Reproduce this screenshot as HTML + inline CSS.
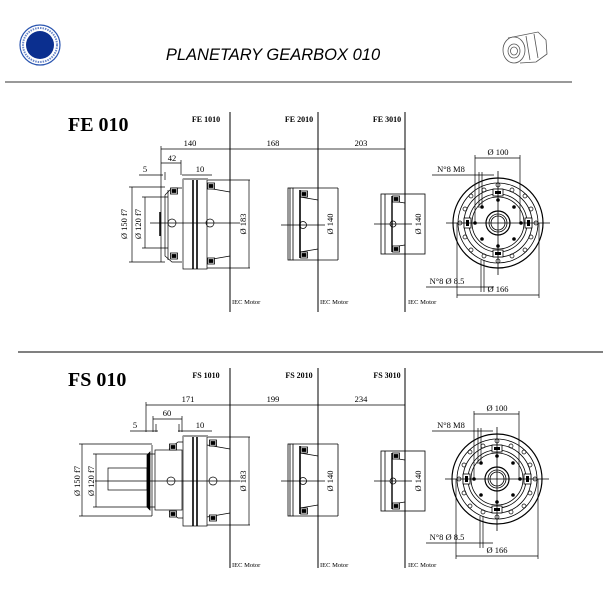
<!DOCTYPE html>
<html><head><meta charset="utf-8"><style>
html,body{margin:0;padding:0;background:#fff;width:603px;height:605px;overflow:hidden}
svg{display:block}
text{font-family:"Liberation Serif",serif;fill:#000}
</style></head><body>
<svg width="603" height="605" viewBox="0 0 603 605" xmlns="http://www.w3.org/2000/svg">
<defs>
<g id="fl" fill="none" stroke="#000" stroke-width="0.8">
  <circle r="45" stroke-width="1.2"/>
  <circle r="40"/>
  <circle r="34"/>
  <circle r="29"/>
  <circle r="26"/>
  <circle r="12" stroke-width="1.2"/>
  <circle r="9"/>
  <circle r="7"/>
  <g stroke-width="0.7">
    <circle cx="0" cy="-38" r="2"/><circle cx="27" cy="-27" r="2"/><circle cx="38" cy="0" r="2"/><circle cx="27" cy="27" r="2"/>
    <circle cx="0" cy="38" r="2"/><circle cx="-27" cy="27" r="2"/><circle cx="-38" cy="0" r="2"/><circle cx="-27" cy="-27" r="2"/>
    <circle cx="14" cy="-33" r="2"/><circle cx="33" cy="-14" r="2"/><circle cx="33" cy="14" r="2"/><circle cx="14" cy="33" r="2"/>
    <circle cx="-14" cy="33" r="2"/><circle cx="-33" cy="14" r="2"/><circle cx="-33" cy="-14" r="2"/><circle cx="-14" cy="-33" r="2"/>
  </g>
  <g fill="#000" stroke="none">
    <circle cx="0" cy="-23" r="1.8"/><circle cx="16" cy="-16" r="1.8"/><circle cx="23" cy="0" r="1.8"/><circle cx="16" cy="16" r="1.8"/>
    <circle cx="0" cy="23" r="1.8"/><circle cx="-16" cy="16" r="1.8"/><circle cx="-23" cy="0" r="1.8"/><circle cx="-16" cy="-16" r="1.8"/>
  </g>
  <rect x="-5" y="-34" width="10" height="7" fill="#fff"/><rect x="-3" y="-32" width="6" height="3" fill="#000" stroke="none"/>
  <rect x="-5" y="27" width="10" height="7" fill="#fff"/><rect x="-3" y="29" width="6" height="3" fill="#000" stroke="none"/>
  <rect x="-34" y="-5" width="7" height="10" fill="#fff"/><rect x="-32" y="-3" width="3" height="6" fill="#000" stroke="none"/>
  <rect x="27" y="-5" width="7" height="10" fill="#fff"/><rect x="29" y="-3" width="3" height="6" fill="#000" stroke="none"/>
  <line x1="-52" y1="0" x2="52" y2="0"/><line x1="0" y1="-52" x2="0" y2="52"/>
</g>
<g id="bolt" fill="#fff" stroke="#000" stroke-width="0.8">
  <rect x="-3.5" y="-3" width="7" height="6"/><rect x="-2" y="-1.5" width="4" height="3" fill="#000"/>
</g>
<g id="s2" fill="none" stroke="#000" stroke-width="0.8">
  <rect x="288" y="-37" width="5" height="72"/>
  <line x1="290" y1="-37" x2="290" y2="35"/>
  <line x1="293" y1="-37" x2="338" y2="-37"/><line x1="293" y1="35" x2="338" y2="35"/>
  <line x1="300" y1="-35" x2="300" y2="33" stroke-width="1.6"/>
  <line x1="300" y1="-28" x2="318" y2="-25"/><line x1="300" y1="27" x2="318" y2="24"/>
  <use href="#bolt" x="304" y="-31"/><use href="#bolt" x="304" y="30"/>
  <circle cx="303" cy="0" r="3.5"/>
  <line x1="281" y1="0" x2="325" y2="0"/>
  <line x1="338" y1="-37" x2="338" y2="35"/>
</g>
<g id="s3" fill="none" stroke="#000" stroke-width="0.8">
  <rect x="381" y="-30" width="44" height="60"/>
  <line x1="385" y1="-30" x2="385" y2="30"/>
  <line x1="392" y1="-28" x2="392" y2="28" stroke-width="1.4"/>
  <line x1="392" y1="-23" x2="405" y2="-21"/><line x1="392" y1="23" x2="405" y2="21"/>
  <use href="#bolt" x="396" y="-25"/><use href="#bolt" x="396" y="25"/>
  <circle cx="393" cy="0" r="3"/>
  <line x1="374" y1="0" x2="412" y2="0"/>
</g>
</defs>

<!-- header -->
<circle cx="40" cy="45" r="20" fill="none" stroke="#2a55b0" stroke-width="1.2"/>
<circle cx="40" cy="45" r="17" fill="none" stroke="#6c88c8" stroke-width="2" stroke-dasharray="1.5 1"/>
<circle cx="40" cy="45" r="14" fill="#0b2f8f"/>
<text x="273" y="60" text-anchor="middle" style="font-family:'Liberation Sans',sans-serif;font-style:italic;font-size:16.5px">PLANETARY GEARBOX 010</text>
<g fill="none" stroke="#555" stroke-width="0.8">
  <ellipse cx="514" cy="50" rx="11" ry="13"/><ellipse cx="514" cy="51" rx="6" ry="7"/><ellipse cx="514" cy="51" rx="3.5" ry="4"/>
  <path d="M508 38 L538 32 L546 40 L547 54 L536 62 L520 63"/><path d="M526 36 L530 60 M534 34 L538 58"/>
</g>
<line x1="5" y1="82" x2="572" y2="82" stroke="#333" stroke-width="1"/>

<!-- FE section -->
<text x="68" y="131" font-weight="bold" font-size="20">FE 010</text>
<g font-size="8" font-weight="bold" text-anchor="middle">
<text x="206" y="122">FE 1010</text><text x="299" y="122">FE 2010</text><text x="387" y="122">FE 3010</text>
</g>
<g stroke="#000" stroke-width="1"><line x1="230" y1="112" x2="230" y2="312"/><line x1="318" y1="112" x2="318" y2="312"/><line x1="405" y1="112" x2="405" y2="312"/></g>
<g font-size="6.5"><text x="232" y="304">IEC Motor</text><text x="320" y="304">IEC Motor</text><text x="408" y="304">IEC Motor</text></g>
<g stroke="#000" stroke-width="0.7" fill="none">
  <line x1="161" y1="149" x2="405" y2="149"/>
  <line x1="161" y1="146" x2="161" y2="262"/>
  <line x1="161" y1="163" x2="181" y2="163"/><line x1="181" y1="160" x2="181" y2="175"/><line x1="165" y1="172" x2="165" y2="180"/>
  <line x1="139" y1="175" x2="163" y2="175"/><line x1="182" y1="175" x2="212" y2="175"/>
  <!-- FE1010 body -->
  <path d="M165 195 L172 188 L182 188 M165 195 L165 256 L172 262 L182 262"/>
  <line x1="168" y1="190" x2="168" y2="260"/>
  <line x1="160" y1="212" x2="160" y2="236" stroke-width="1.5"/>
  <rect x="183" y="179" width="24" height="90"/>
  <line x1="193" y1="179" x2="193" y2="269" stroke-width="1.6"/><line x1="197" y1="179" x2="197" y2="269" stroke-width="1.6"/>
  <line x1="207" y1="180" x2="250" y2="180"/><line x1="207" y1="268" x2="250" y2="268"/>
  <line x1="207" y1="188" x2="230" y2="192"/><line x1="207" y1="260" x2="230" y2="256"/>
  <line x1="249" y1="180" x2="249" y2="268"/>
  <circle cx="172" cy="223" r="4"/><circle cx="210" cy="223" r="4"/>
  <line x1="150" y1="223" x2="240" y2="223"/>
  <line x1="129" y1="187" x2="165" y2="187"/><line x1="129" y1="262" x2="165" y2="262"/><line x1="132" y1="187" x2="132" y2="262"/>
  <line x1="142" y1="197" x2="168" y2="197"/><line x1="142" y1="248" x2="168" y2="248"/><line x1="145" y1="197" x2="145" y2="248"/>
  <line x1="183" y1="179" x2="208" y2="179" stroke="#999" stroke-width="2"/>
</g>
<use href="#bolt" x="211" y="186"/><use href="#bolt" x="211" y="261"/>
<use href="#bolt" x="174" y="191"/><use href="#bolt" x="174" y="256"/>
<use href="#s2" y="225"/><use href="#s3" y="224"/>
<g font-size="8.5" text-anchor="middle">
<text x="190" y="146">140</text><text x="273" y="146">168</text><text x="361" y="146">203</text>
<text x="172" y="161">42</text><text x="145" y="172">5</text><text x="200" y="172">10</text>
</g>
<g font-size="8.5" text-anchor="middle">
<text transform="translate(127,224) rotate(-90)">Ø 150 f7</text>
<text transform="translate(141,224) rotate(-90)">Ø 120 f7</text>
<text transform="translate(246,224) rotate(-90)">Ø 183</text>
<text transform="translate(333,224) rotate(-90)">Ø 140</text>
<text transform="translate(421,224) rotate(-90)">Ø 140</text>
</g>
<use href="#fl" x="498" y="223"/>
<g stroke="#000" stroke-width="0.7" fill="none">
  <line x1="475" y1="158" x2="520" y2="158"/><line x1="475" y1="155" x2="475" y2="223"/><line x1="520" y1="155" x2="520" y2="223"/>
  <line x1="432" y1="175" x2="494" y2="175"/><line x1="479" y1="172" x2="479" y2="208"/><line x1="482" y1="172" x2="482" y2="208"/>
  <line x1="426" y1="287" x2="494" y2="287"/><line x1="481" y1="260" x2="481" y2="292"/><line x1="484" y1="260" x2="484" y2="292"/>
  <line x1="457" y1="295" x2="539" y2="295"/><line x1="457" y1="223" x2="457" y2="298"/><line x1="539" y1="223" x2="539" y2="298"/>
</g>
<g font-size="8.5" text-anchor="middle"><text x="498" y="155">Ø 100</text><text x="451" y="172">N°8 M8</text><text x="447" y="284">N°8 Ø 8.5</text><text x="498" y="292">Ø 166</text></g>

<line x1="18" y1="352" x2="603" y2="352" stroke="#000" stroke-width="1"/>

<!-- FS section -->
<text x="68" y="386" font-weight="bold" font-size="20">FS 010</text>
<g font-size="8" font-weight="bold" text-anchor="middle">
<text x="206" y="378">FS 1010</text><text x="299" y="378">FS 2010</text><text x="387" y="378">FS 3010</text>
</g>
<g stroke="#000" stroke-width="1"><line x1="230" y1="368" x2="230" y2="568"/><line x1="318" y1="368" x2="318" y2="568"/><line x1="405" y1="368" x2="405" y2="568"/></g>
<g font-size="6.5"><text x="232" y="567">IEC Motor</text><text x="320" y="567">IEC Motor</text><text x="408" y="567">IEC Motor</text></g>
<g stroke="#000" stroke-width="0.7" fill="none">
  <line x1="146" y1="405" x2="405" y2="405"/>
  <line x1="146" y1="402" x2="146" y2="432"/>
  <line x1="153" y1="419" x2="182" y2="419"/><line x1="153" y1="416" x2="153" y2="432"/><line x1="156" y1="424" x2="156" y2="432"/><line x1="182" y1="416" x2="182" y2="432"/><line x1="179" y1="424" x2="179" y2="432"/>
  <line x1="130" y1="431" x2="158" y2="431"/><line x1="178" y1="431" x2="212" y2="431"/>
  <rect x="108" y="468" width="39" height="22"/>
  <path d="M147 455 L150 452 L150 510 L147 507 Z" fill="#000"/>
  <line x1="152" y1="445" x2="152" y2="516"/>
  <rect x="155" y="450" width="27" height="60"/>
  <path d="M169 449 L178 442 L183 442 M169 511 L178 518 L183 518"/>
  <rect x="183" y="436" width="24" height="90"/>
  <line x1="193" y1="436" x2="193" y2="526" stroke-width="1.6"/><line x1="197" y1="436" x2="197" y2="526" stroke-width="1.6"/>
  <line x1="207" y1="437" x2="250" y2="437"/><line x1="207" y1="525" x2="250" y2="525"/>
  <line x1="207" y1="445" x2="230" y2="449"/><line x1="207" y1="517" x2="230" y2="513"/>
  <line x1="249" y1="437" x2="249" y2="525"/>
  <circle cx="171" cy="481" r="4"/><circle cx="213" cy="481" r="4"/>
  <line x1="95" y1="481" x2="240" y2="481"/>
  <line x1="79" y1="444" x2="152" y2="444"/><line x1="79" y1="516" x2="152" y2="516"/><line x1="82" y1="444" x2="82" y2="516"/>
  <line x1="93" y1="454" x2="155" y2="454"/><line x1="93" y1="507" x2="155" y2="507"/><line x1="96" y1="454" x2="96" y2="507"/>
  <line x1="183" y1="436" x2="208" y2="436" stroke="#999" stroke-width="2"/>
</g>
<use href="#bolt" x="213" y="443"/><use href="#bolt" x="213" y="518"/>
<use href="#bolt" x="173" y="447"/><use href="#bolt" x="173" y="514"/>
<use href="#s2" y="481"/><use href="#s3" y="481"/>
<g font-size="8.5" text-anchor="middle">
<text x="188" y="402">171</text><text x="273" y="402">199</text><text x="361" y="402">234</text>
<text x="167" y="416">60</text><text x="135" y="428">5</text><text x="200" y="428">10</text>
</g>
<g font-size="8.5" text-anchor="middle">
<text transform="translate(80,481) rotate(-90)">Ø 150 f7</text>
<text transform="translate(94,481) rotate(-90)">Ø 120 f7</text>
<text transform="translate(246,481) rotate(-90)">Ø 183</text>
<text transform="translate(333,481) rotate(-90)">Ø 140</text>
<text transform="translate(421,481) rotate(-90)">Ø 140</text>
</g>
<use href="#fl" x="497" y="479"/>
<g stroke="#000" stroke-width="0.7" fill="none">
  <line x1="474" y1="414" x2="519" y2="414"/><line x1="474" y1="411" x2="474" y2="479"/><line x1="519" y1="411" x2="519" y2="479"/>
  <line x1="432" y1="431" x2="493" y2="431"/><line x1="478" y1="428" x2="478" y2="464"/><line x1="481" y1="428" x2="481" y2="464"/>
  <line x1="426" y1="543" x2="493" y2="543"/><line x1="480" y1="516" x2="480" y2="548"/><line x1="483" y1="516" x2="483" y2="548"/>
  <line x1="456" y1="556" x2="538" y2="556"/><line x1="456" y1="479" x2="456" y2="559"/><line x1="538" y1="479" x2="538" y2="559"/>
</g>
<g font-size="8.5" text-anchor="middle"><text x="497" y="411">Ø 100</text><text x="451" y="428">N°8 M8</text><text x="447" y="540">N°8 Ø 8.5</text><text x="497" y="553">Ø 166</text></g>
</svg>
</body></html>
